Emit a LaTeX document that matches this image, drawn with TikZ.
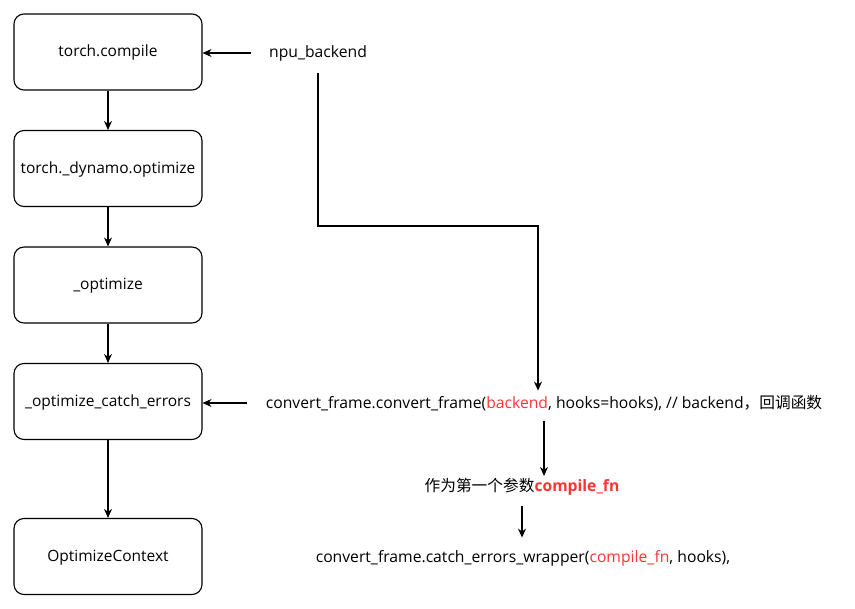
\documentclass[tikz,border=0pt]{standalone}
\usepackage{fontspec}
\setmainfont{Open Sans}
\newfontfamily\cjk{Noto Sans CJK SC}
\usetikzlibrary{positioning}
\usetikzlibrary{arrows.meta}
\definecolor{hlred}{HTML}{FF3333}
\tikzset{
  callbox/.style={draw, rounded corners=10pt, minimum width=188pt, minimum height=76pt, line width=1.1pt, text depth=2pt},
  codetext/.style={inner sep=0pt, font=\fontsize{15.7}{18}\selectfont},
}
\begin{document}
\begin{tikzpicture}[x=1pt, y=-1pt, line width=1.1pt, >={Stealth[length=9pt,width=8pt]},
  every node/.style={font=\fontsize{15.5}{18}\selectfont}]
  \useasboundingbox (0,0) rectangle (855,609);

  % call chain
  \node[callbox] (compile) at (108,52) {torch.compile};
  \node[callbox] (dynopt) at (108,168.5) {torch.\_dynamo.optimize};
  \node[callbox] (optim) at (108,285) {\_optimize};
  \node[callbox] (catcherr) at (108,401.5) {\_optimize\_catch\_errors};
  \node[callbox] (optctx) at (108,556.5) {OptimizeContext};

  \draw[->] (compile) -- (dynopt);
  \draw[->] (dynopt) -- (optim);
  \draw[->] (optim) -- (catcherr);
  \draw[->] (catcherr) -- (optctx);

  % backend side
  \node[codetext] (npu) at (318,53) {npu\_backend};
  \node[codetext] (convframe) at (544,403) {convert\_frame.convert\_frame(\textcolor{hlred}{backend}, hooks=hooks), // backend{\cjk ，回调函数}};
  \node[codetext] (firstarg) at (522,487) {{\cjk 作为第一个参数}\textcolor{hlred}{\bfseries compile\_fn}};
  \node[codetext] (wrapper) at (523,558) {convert\_frame.catch\_errors\_wrapper(\textcolor{hlred}{compile\_fn}, hooks),};

  \draw[->, shorten <=18pt] (npu.west) -- (npu.west -| compile.east);
  \draw[->, shorten <=18pt] (convframe.west) -- (convframe.west -| catcherr.east);

  \coordinate (turn) at (538,226);
  \draw[->, shorten >=4pt] ([yshift=-12pt]npu.south) -- (npu.south |- turn) -- (turn) -- (turn |- convframe.north);
  \draw[->, shorten <=10pt, shorten >=2pt] (convframe.south) -- (convframe.south |- firstarg.north);
  \draw[->, shorten <=10pt, shorten >=12pt] (firstarg.south) -- (firstarg.south |- wrapper.north);
\end{tikzpicture}
\end{document}
